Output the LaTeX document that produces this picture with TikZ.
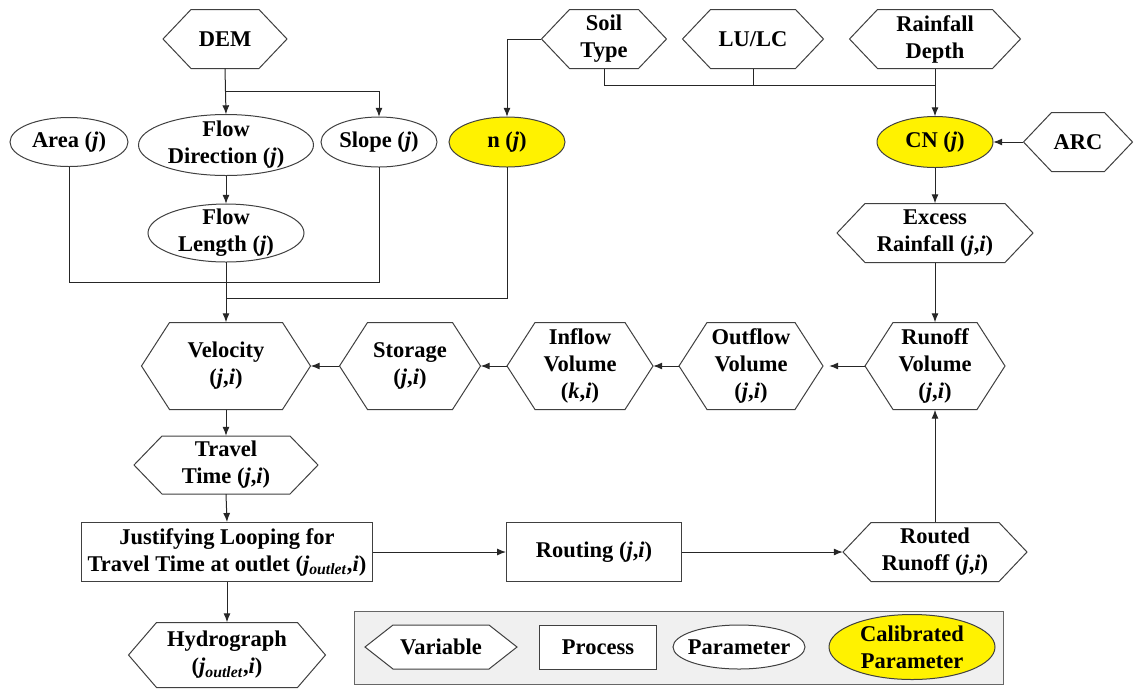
\documentclass[tikz,border=0pt]{standalone}
\usepackage{fontspec}
\setmainfont{LiberationSerif}[Extension=.ttf, UprightFont=*-Regular, BoldFont=*-Bold, ItalicFont=*-Italic, BoldItalicFont=*-BoldItalic]
\usetikzlibrary{arrows.meta,calc}
\tikzset{
  txt/.style={inner sep=0pt, align=center, font=\fontsize{22.5}{27}\selectfont\bfseries},
  outline/.style={draw=black!75, line width=1pt},
  conn/.style={draw=black!85, line width=1pt},
  arr/.style={conn, -{Latex[length=9pt,width=7pt]}},
  procbox/.style={txt, outline, fill=white},
}
% hexagon: name, x, y, w, h, text
\newcommand{\hexv}[6]{%
  \filldraw[outline,fill=white] ({#2-#4/2},#3) -- ({#2-#4/2+28},{#3-#5/2}) -- ({#2+#4/2-28},{#3-#5/2}) -- ({#2+#4/2},#3) -- ({#2+#4/2-28},{#3+#5/2}) -- ({#2-#4/2+28},{#3+#5/2}) -- cycle;
  \node[txt,minimum width=#4pt,minimum height=#5pt] (#1) at (#2,#3) {#6};}
% ellipse: name, x, y, w, h, fill, text
\newcommand{\ellp}[7]{%
  \filldraw[outline,fill=#6] (#2,#3) ellipse [x radius=#4pt/2, y radius=#5pt/2];
  \node[txt,minimum width=#4pt,minimum height=#5pt] (#1) at (#2,#3) {#7};}
\begin{document}
\begin{tikzpicture}[x=1pt,y=-1pt]
\useasboundingbox (0,0) rectangle (1134,689);

% top row
\hexv{dem}{225}{39}{124}{59}{DEM}
\hexv{soil}{604}{39}{125}{59}{Soil\\Type}
\hexv{lulc}{753}{39}{141}{59}{LU/LC}
\hexv{rain}{935}{39}{171}{59}{Rainfall\\Depth}

% parameters
\ellp{area}{69}{142}{118}{49}{white}{Area (\textit{j})}
\ellp{fd}{226}{145}{175}{61}{white}{Flow\\Direction (\textit{j})}
\ellp{slope}{379}{142}{116}{50}{white}{Slope (\textit{j})}
\ellp{n}{507}{142}{116}{50}{yellow}{n (\textit{j})}
\ellp{cn}{935}{142}{116}{51}{yellow}{CN (\textit{j})}
\hexv{arc}{1078}{142}{109}{59}{ARC}
\ellp{fl}{226}{233}{156}{58}{white}{Flow\\Length (\textit{j})}
\hexv{excess}{935}{233}{196}{59}{Excess\\Rainfall (\textit{j},\textit{i})}

% middle row
\hexv{vel}{226}{366}{169}{87}{Velocity\\(\textit{j},\textit{i})}
\hexv{sto}{410}{366}{141}{87}{Storage\\(\textit{j},\textit{i})}
\hexv{inf}{580}{366}{146}{87}{Inflow\\Volume\\(\textit{k},\textit{i})}
\hexv{outf}{751}{366}{144}{87}{Outflow\\Volume\\(\textit{j},\textit{i})}
\hexv{runv}{935}{366}{140}{87}{Runoff\\Volume\\(\textit{j},\textit{i})}

% lower rows
\hexv{tt}{226}{465}{184}{58}{Travel\\Time (\textit{j},\textit{i})}
\node[procbox,minimum width=291pt,minimum height=59pt] (just) at (227,552)
  {Justifying Looping for\\Travel Time at outlet (\textit{j}\textsubscript{\textit{outlet}},\textit{i})};
\node[procbox,minimum width=175pt,minimum height=59pt] (rout) at (594,552) {Routing (\textit{j},\textit{i})};
\hexv{routed}{935}{552}{184}{59}{Routed\\Runoff (\textit{j},\textit{i})}
\hexv{hydro}{227}{655}{197}{65}{Hydrograph\\(\textit{j}\textsubscript{\textit{outlet}},\textit{i})}

% legend
\node[draw=black!60, line width=1pt, fill=black!6, minimum width=649pt, minimum height=73pt, inner sep=0pt] (legend) at (678.5,647.5) {};
\hexv{lvar}{441}{647}{152}{44}{Variable}
\node[procbox,minimum width=117pt,minimum height=44pt] (lproc) at (598,647) {Process};
\ellp{lpar}{739}{647}{132}{44}{white}{Parameter}
\ellp{lcal}{912}{647}{166}{65}{yellow}{Calibrated\\Parameter}

% connectors
\coordinate (b1) at (226,91);
\draw[arr] (dem.south) -- (fd.north);
\draw[arr] (b1) -| (slope.north);
\draw[arr] (fd.south) -- (fl.north);

\coordinate (j1) at (226,282);
\coordinate (j2) at (226,298);
\draw[conn] (area.south) |- (j1);
\draw[conn] (slope.south) |- (j1);
\draw[conn] (n.south) |- (j2);
\draw[arr] (fl.south) -- (vel.north);

\draw[arr] (soil.west) -| (n.north);
\coordinate (j3) at (935,85);
\draw[conn] (soil.south) |- (j3);
\draw[conn] (lulc.south) -- (lulc.south |- j3);
\draw[arr] (rain.south) -- (cn.north);
\draw[arr] (arc.west) -- (cn.east);
\draw[arr] (cn.south) -- (excess.north);
\draw[arr] (excess.south) -- (runv.north);

\draw[arr] (runv.west) -- ($(outf.east)+(6,0)$);
\draw[arr] (outf.west) -- (inf.east);
\draw[arr] (inf.west) -- (sto.east);
\draw[arr] (sto.west) -- (vel.east);

\draw[arr] (vel.south) -- (tt.north);
\draw[arr] (tt.south) -- (just.north);
\draw[arr] (just.east) -- (rout.west);
\draw[arr] (rout.east) -- (routed.west);
\draw[arr] (routed.north) -- (runv.south);
\draw[arr] (just.south) -- (hydro.north);
\end{tikzpicture}
\end{document}
